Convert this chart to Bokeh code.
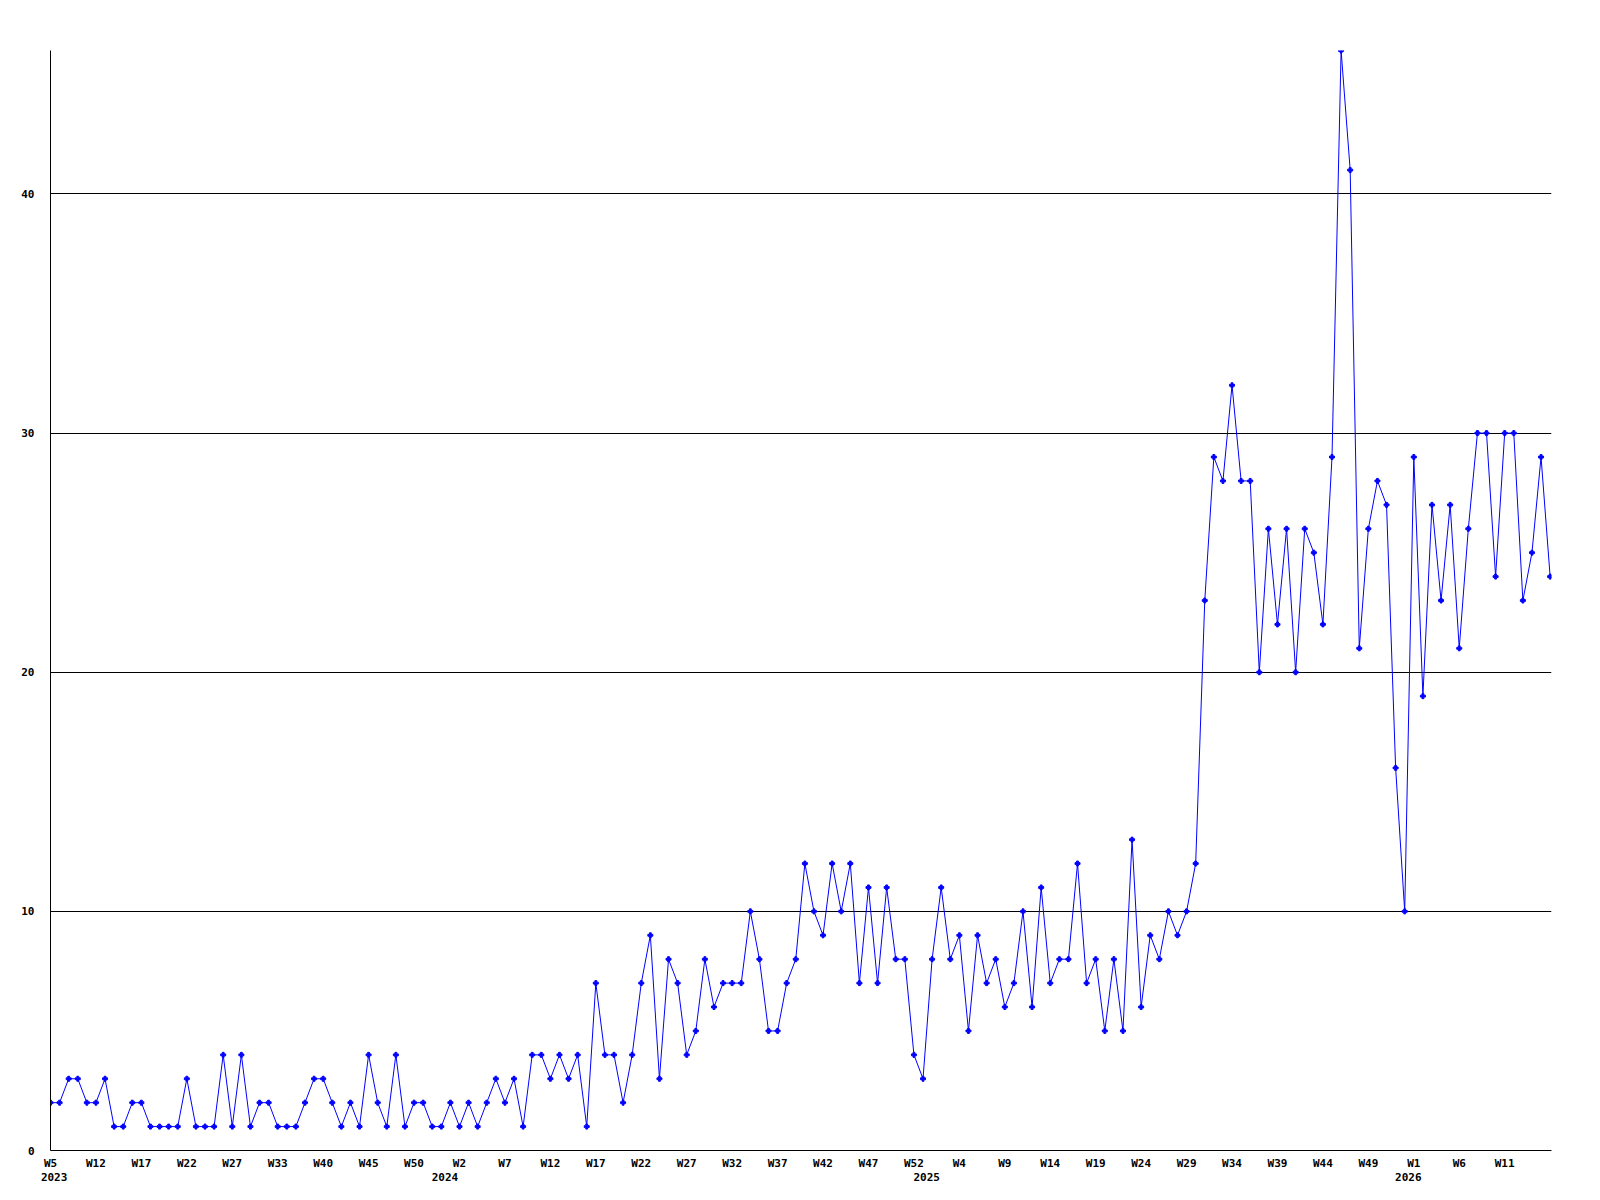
from bokeh.plotting import figure
from bokeh.models import FixedTicker, LinearAxis, Range1d, ColumnDataSource
from bokeh.embed import file_html
from bokeh.resources import INLINE

# weekly counts, 2023 W5 .. 2026
values = [
    2, 2, 3, 3, 2, 2, 3, 1, 1, 2, 2, 1, 1, 1, 1, 3, 1, 1, 1, 4,
    1, 4, 1, 2, 2, 1, 1, 1, 2, 3, 3, 2, 1, 2, 1, 4, 2, 1, 4, 1,
    2, 2, 1, 1, 2, 1, 2, 1, 2, 3, 2, 3, 1, 4, 4, 3, 4, 3, 4, 1,
    7, 4, 4, 2, 4, 7, 9, 3, 8, 7, 4, 5, 8, 6, 7, 7, 7, 10, 8, 5,
    5, 7, 8, 12, 10, 9, 12, 10, 12, 7, 11, 7, 11, 8, 8, 4, 3, 8, 11, 8,
    9, 5, 9, 7, 8, 6, 7, 10, 6, 11, 7, 8, 8, 12, 7, 8, 5, 8, 5, 13,
    6, 9, 8, 10, 9, 10, 12, 23, 29, 28, 32, 28, 28, 20, 26, 22, 26, 20, 26, 25,
    22, 29, 46, 41, 21, 26, 28, 27, 16, 10, 29, 19, 27, 23, 27, 21, 26, 30, 30, 24,
    30, 30, 23, 25, 29, 24,
]
week_index = list(range(len(values)))

x_tick_index = list(range(0, 161, 5))
x_tick_labels = [
    "W5", "W12", "W17", "W22", "W27", "W33", "W40", "W45", "W50",
    "W2", "W7", "W12", "W17", "W22", "W27", "W32", "W37", "W42", "W47", "W52",
    "W4", "W9", "W14", "W19", "W24", "W29", "W34", "W39", "W44", "W49",
    "W1", "W6", "W11",
]
year_labels = ["2023", "2024", "2025", "2026"]
year_tick_index = [0.4, 43.4, 96.4, 149.4]
y_ticks = [0, 10, 20, 30, 40]

FONT = "DejaVu Sans Mono"
BLUE = "#0000ff"

p = figure(
    frame_width=1501, frame_height=1100,
    x_range=Range1d(0, 165.15), y_range=Range1d(0, 46),
    output_backend="svg", toolbar_location=None,
    min_border_left=50, min_border_top=50, min_border_right=40, min_border_bottom=10,
    background_fill_color="white", border_fill_color="white",
)
p.outline_line_color = None

src = ColumnDataSource(dict(x=week_index, y=values))
p.line("x", "y", source=src, line_color=BLUE, line_width=1)
p.scatter("x", "y", source=src, marker="plus", size=5, fill_color=BLUE, line_color=BLUE)

def style_axis(ax):
    ax.major_tick_line_color = None
    ax.minor_tick_line_color = None
    ax.major_tick_out = 0
    ax.major_tick_in = 0
    ax.major_label_text_font = FONT
    ax.major_label_text_font_style = "bold"
    ax.major_label_text_font_size = "11px"
    ax.major_label_text_color = "black"

xa = p.xaxis[0]
xa.ticker = FixedTicker(ticks=x_tick_index)
xa.major_label_overrides = {i: lab for i, lab in zip(x_tick_index, x_tick_labels)}
style_axis(xa)
xa.axis_line_color = "black"
xa.axis_line_width = 1
xa.major_label_standoff = 6

ya = p.yaxis[0]
ya.ticker = FixedTicker(ticks=y_ticks)
style_axis(ya)
ya.axis_line_color = "black"
ya.major_label_standoff = 16

year_axis = LinearAxis(ticker=FixedTicker(ticks=year_tick_index))
year_axis.major_label_overrides = {i: lab for i, lab in zip(year_tick_index, year_labels)}
style_axis(year_axis)
year_axis.axis_line_color = None
year_axis.major_label_standoff = 0
p.add_layout(year_axis, "below")

p.xgrid.visible = False
p.ygrid.ticker = FixedTicker(ticks=y_ticks)
p.ygrid.grid_line_color = "black"
p.ygrid.grid_line_alpha = 1.0
p.ygrid.grid_line_width = 1

open("out.html", "w").write(file_html(p, INLINE))
